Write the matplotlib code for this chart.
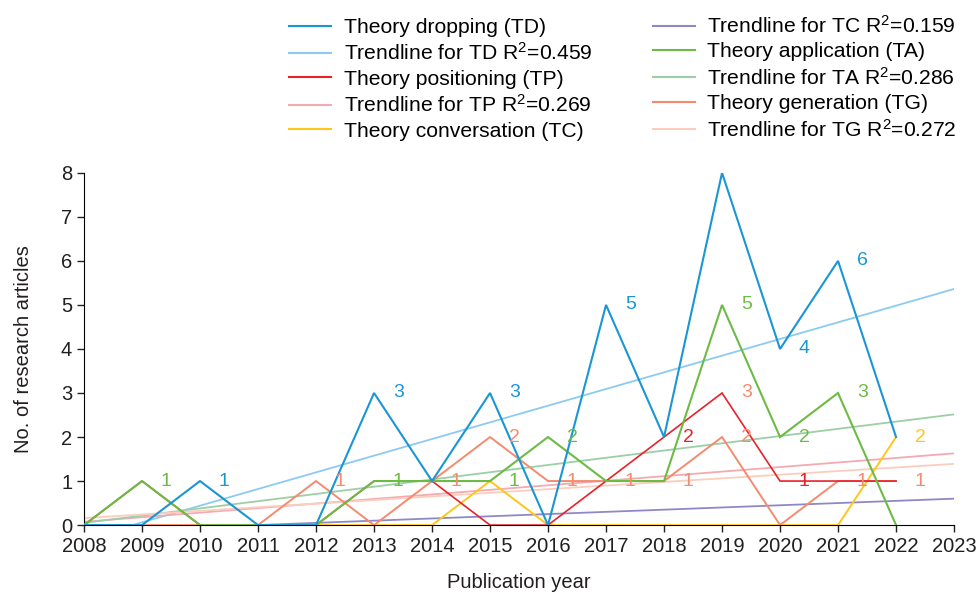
import matplotlib
matplotlib.use("Agg")
import matplotlib.pyplot as plt
import numpy as np
from matplotlib.lines import Line2D

plt.rcParams["font.family"] = ["Liberation Sans", "DejaVu Sans"]
plt.rcParams["mathtext.fontset"] = "custom"
plt.rcParams["mathtext.rm"] = "Liberation Sans"
plt.rcParams["mathtext.default"] = "regular"

years = list(range(2008, 2023))
td = [0, 0, 1, 0, 0, 3, 1, 3, 0, 5, 2, 8, 4, 6, 2]
tp = [0, 1, 0, 0, 0, 1, 1, 0, 0, 1, 2, 3, 1, 1, 1]
tc = [0, 0, 0, 0, 0, 0, 0, 1, 0, 0, 0, 0, 0, 0, 2]
ta = [0, 1, 0, 0, 0, 1, 1, 1, 2, 1, 1, 5, 2, 3, 0]
tg = [0, 0, 0, 0, 1, 0, 1, 2, 1, 1, 1, 2, 0, 1, 1]

series_names = ["Theory dropping (TD)", "Theory positioning (TP)",
                "Theory conversation (TC)", "Theory application (TA)",
                "Theory generation (TG)"]
trend_names = ["Trendline for TD R$^2$=0.459", "Trendline for TP R$^2$=0.269",
               "Trendline for TC R$^2$=0.159", "Trendline for TA R$^2$=0.286",
               "Trendline for TG R$^2$=0.272"]

# (series key, year, colour key) for the value labels
labels = [
    ("TA", 2009, "TA"), ("TD", 2010, "TD"), ("TG", 2012, "TG"),
    ("TD", 2013, "TD"), ("TA", 2013, "TA"), ("TG", 2014, "TG"),
    ("TD", 2015, "TD"), ("TG", 2015, "TG"), ("TA", 2015, "TA"),
    ("TA", 2016, "TA"), ("TG", 2016, "TG"), ("TD", 2017, "TD"),
    ("TG", 2017, "TG"), ("TP", 2018, "TP"), ("TG", 2018, "TG"),
    ("TA", 2019, "TA"), ("TP", 2019, "TG"), ("TG", 2019, "TG"),
    ("TD", 2020, "TD"), ("TA", 2020, "TA"), ("TP", 2020, "TP"),
    ("TD", 2021, "TD"), ("TA", 2021, "TA"), ("TG", 2021, "TG"),
    ("TC", 2022, "TC"), ("TG", 2022, "TG"),
]

data = {"TD": td, "TP": tp, "TC": tc, "TA": ta, "TG": tg}
colors = {"TD": "#1a96d4", "TP": "#e8222b", "TC": "#ffc61a",
          "TA": "#6dbb45", "TG": "#f58b6e"}
trend_colors = {"TD": "#8ccbf0", "TP": "#f5a9b0", "TC": "#8e89c6",
                "TA": "#9ccfa5", "TG": "#fbcdbd"}
zorders = {"TC": 3, "TG": 4, "TP": 5, "TA": 6, "TD": 7}
widths = {"TC": 1.4, "TG": 1.4, "TP": 1.2, "TA": 1.5, "TD": 1.5}

fig = plt.figure(figsize=(9.77, 5.96), dpi=100)
ax = fig.add_axes([0.086, 0.119, 0.8905, 0.591])

x = np.array(years)
xt = np.array([2008, 2023])
keys = ["TD", "TP", "TC", "TA", "TG"]
handles = []
for k, name, tname in zip(keys, series_names, trend_names):
    slope, icpt = np.polyfit(x, data[k], 1)
    ax.plot(xt, slope * xt + icpt, color=trend_colors[k], lw=1.3, zorder=2)
    ax.plot(x, data[k], color=colors[k], lw=widths[k], zorder=zorders[k],
            solid_joinstyle="miter")
    handles.append(Line2D([], [], color=colors[k], lw=1.5, label=name))
    handles.append(Line2D([], [], color=trend_colors[k], lw=1.5, label=tname))

for key, yr, ck in labels:
    v = data[key][years.index(yr)]
    ax.text(yr + 0.42, v, str(v), color=colors[ck], fontsize=14,
            ha="center", va="center", zorder=8)

ax.set_xlim(2008, 2023)
ax.set_ylim(0, 8)
ax.set_xticks(range(2008, 2024))
ax.set_yticks(range(0, 9))
ax.spines["top"].set_visible(False)
ax.spines["right"].set_visible(False)
ax.tick_params(labelsize=14.5, length=5, width=1, colors="#231f20")
ax.set_xlabel("Publication year", fontsize=14.5, labelpad=12, color="#231f20")
ax.set_ylabel("No. of research articles", fontsize=14.5, labelpad=20, color="#231f20")

fig.legend(handles=handles, ncol=2, loc="upper left",
           bbox_to_anchor=(289 / 977, 1 - 15 / 596), frameon=False, fontsize=15.2,
           handlelength=2.0, handletextpad=0.6, columnspacing=2.85,
           labelspacing=0.26, borderaxespad=0, borderpad=0)

fig.savefig("out.png", dpi=100)
